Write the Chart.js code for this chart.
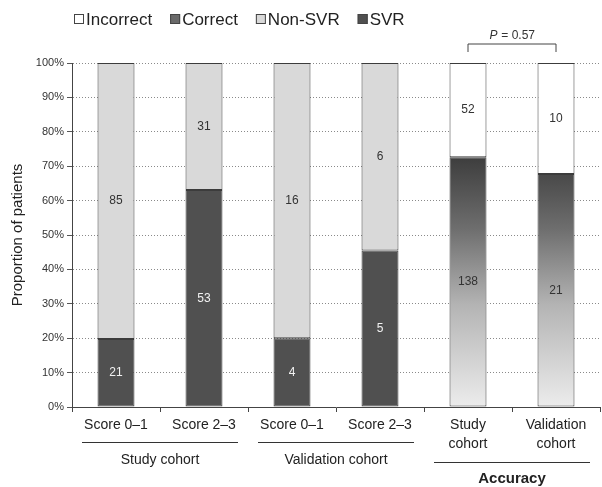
<!DOCTYPE html>
<html><head><meta charset="utf-8">
<script src="https://cdn.jsdelivr.net/npm/chart.js@4.4.1/dist/chart.umd.min.js"></script>
<style>html,body{margin:0;padding:0;background:#fff}#wrap{width:602px;height:487px}</style>
</head><body><div id="wrap"><canvas id="c" width="602" height="487"></canvas></div>
<script>
const categories = [["Score 0\u20131"],["Score 2\u20133"],["Score 0\u20131"],["Score 2\u20133"],["Study","cohort"],["Validation","cohort"]];
const groups = ["Study cohort","Validation cohort","Accuracy"];
const svrPct    = [19.8, 63.1, 20.0, 45.5, null, null];
const nonSvrPct = [80.2, 36.9, 80.0, 54.5, null, null];
const correctPct   = [null, null, null, null, 72.6, 67.7];
const incorrectPct = [null, null, null, null, 27.4, 32.3];
const svrN    = [21, 53, 4, 5, null, null];
const nonSvrN = [85, 31, 16, 6, null, null];
const correctN   = [null, null, null, null, 138, 21];
const incorrectN = [null, null, null, null, 52, 10];
const pText = "P = 0.57";
const FONT = "'Liberation Sans', Arial, sans-serif";

function correctFill(ctx){
  const ch = ctx.chart; const y = ch.scales.y;
  if(!ch.chartArea) return '#888';
  const g = ch.ctx.createLinearGradient(0, y.getPixelForValue(74), 0, y.getPixelForValue(0));
  g.addColorStop(0, '#3a3a3a'); g.addColorStop(0.3, '#6e6e6e');
  g.addColorStop(0.6, '#b4b4b4'); g.addColorStop(1, '#ececec');
  return g;
}

const common = {borderColor:'#3c3c3c', borderWidth:1, borderSkipped:false, barPercentage:0.42, categoryPercentage:1, stack:'s'};
const datasets = [
  Object.assign({label:'SVR', data:svrPct, counts:svrN, textColor:'#f2f2f2', backgroundColor:'#505050'}, common),
  Object.assign({label:'Non-SVR', data:nonSvrPct, counts:nonSvrN, textColor:'#333', backgroundColor:'#d9d9d9'}, common),
  Object.assign({label:'Correct', data:correctPct, counts:correctN, textColor:'#333', backgroundColor:correctFill}, common),
  Object.assign({label:'Incorrect', data:incorrectPct, counts:incorrectN, textColor:'#333', backgroundColor:'#ffffff'}, common)
];

const extras = {
  id:'extras',
  afterDatasetsDraw(chart){
    const c = chart.ctx;
    c.save(); c.font = '12px '+FONT; c.textAlign='center'; c.textBaseline='middle';
    chart.data.datasets.forEach((ds, di) => {
      const meta = chart.getDatasetMeta(di);
      c.fillStyle = ds.textColor;
      meta.data.forEach((el, i) => {
        if (ds.counts[i] == null) return;
        const mid = (el.y + el.base) / 2;
        c.fillText(String(ds.counts[i]), el.x, mid);
      });
    });
    c.restore();
  },
  afterDraw(chart){
    const c = chart.ctx; const x = chart.scales.x; const y = chart.scales.y;
    const step = x.getPixelForValue(1) - x.getPixelForValue(0);
    c.save();
    // legend
    const items = [['Incorrect','#fff'],['Correct','#6a6a6a'],['Non-SVR','#d9d9d9'],['SVR','#505050']];
    c.font = '17px '+FONT; c.textBaseline='middle'; c.textAlign='left';
    let lx = 74; const ly = 19;
    items.forEach(([t,col]) => {
      c.fillStyle = col; c.fillRect(lx, ly-5, 10, 10);
      c.strokeStyle = '#444'; c.lineWidth = 1; c.strokeRect(lx+0.5, ly-4.5, 9, 9);
      c.fillStyle = '#222'; c.fillText(t, lx+12, ly+1);
      lx += 12 + c.measureText(t).width + 18;
    });
    // group underlines and labels
    c.strokeStyle = '#333'; c.lineWidth = 1.2; c.fillStyle = '#222'; c.textAlign='center';
    const grp = [[0,1,442,460,'14px '],[2,3,442,460,'14px '],[4,5,462,479,'bold 15px ']];
    grp.forEach(([a,b,ul,ty,f], gi) => {
      const x0 = x.getPixelForValue(a) - step/2 + 10, x1 = x.getPixelForValue(b) + step/2 - 10;
      c.beginPath(); c.moveTo(x0, ul+0.5); c.lineTo(x1, ul+0.5); c.stroke();
      c.font = f + FONT; c.fillText(groups[gi], (x0+x1)/2, ty);
    });
    // bracket
    const bx0 = x.getPixelForValue(4), bx1 = x.getPixelForValue(5);
    const top = y.getPixelForValue(100);
    c.lineWidth = 1; c.strokeStyle = '#444';
    c.beginPath(); c.moveTo(bx0, top-11); c.lineTo(bx0, top-19); c.lineTo(bx1, top-19); c.lineTo(bx1, top-11); c.stroke();
    c.font = '12px '+FONT; c.fillStyle='#333';
    const pw = c.measureText(pText).width; const px = (bx0+bx1)/2 - pw/2;
    c.textAlign='left';
    c.font = 'italic 12px '+FONT; c.fillText('P', px, top-27);
    c.font = '12px '+FONT; c.fillText(pText.slice(1), px + c.measureText('P').width + 0.5, top-27);
    c.restore();
  }
};

new Chart(document.getElementById('c'), {
  type:'bar',
  data:{labels:categories, datasets},
  options:{
    responsive:false, animation:false, devicePixelRatio:1,
    layout:{padding:{top:63, right:2, left:0, bottom:0}},
    plugins:{legend:{display:false}, tooltip:{enabled:false}},
    scales:{
      x:{stacked:true,
        grid:{display:true, drawOnChartArea:false, offset:true, tickLength:5, color:'#444'},
        border:{color:'#444', width:1},
        ticks:{font:{size:14, family:FONT, lineHeight:1.35}, color:'#222', padding:4, maxRotation:0, autoSkip:false},
        afterFit(s){ s.height = 80; }
      },
      y:{stacked:true, min:0, max:100,
        ticks:{stepSize:10, callback:v=>v+'%', font:{size:11, family:FONT}, color:'#333', padding:3},
        grid:{color:'#8a8a8a', lineWidth:1, tickLength:5, tickColor:'#555'},
        border:{color:'#444', width:1, dash:[1,2]},
        title:{display:true, text:'Proportion of patients', font:{size:15, family:FONT}, color:'#222', padding:{top:9,bottom:0}},
        afterFit(s){ s.width = 72; }
      }
    }
  },
  plugins:[extras]
});
</script></body></html>
